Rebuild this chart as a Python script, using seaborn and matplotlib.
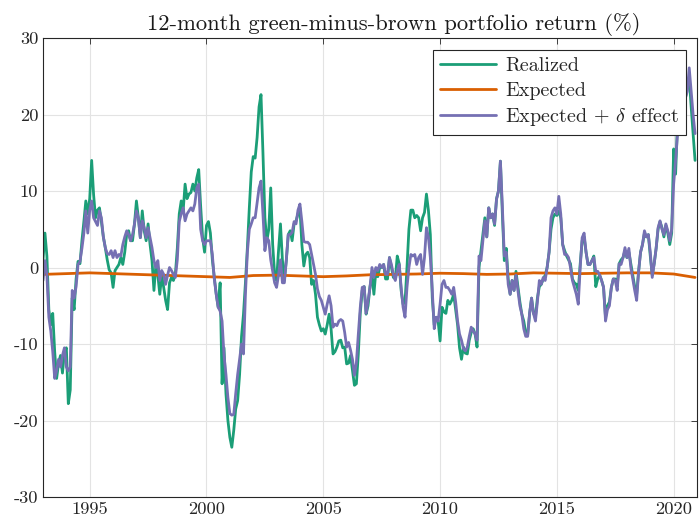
import numpy as np
import pandas as pd
import matplotlib
matplotlib.use("Agg")
import matplotlib.pyplot as plt
import seaborn as sns

# ---------------- data (monthly, Jan 1993 - Dec 2020) ----------------
start_year = 1993
realized = [
    1.0, 4.5, 1.5, -5.5, -7.5, -6.0, -11.0, -14.5, -12.5, -11.5, -13.8, -11.0,      # 1993
    -10.5, -17.8, -16.0, -4.0, -5.5, -1.5, 0.8, 0.5, 3.5, 6.0, 8.7, 7.0,            # 1994
    9.0, 14.0, 9.5, 6.5, 7.5, 7.8, 6.0, 4.0, 2.6, 1.0, -0.3, -0.7,                  # 1995
    -2.6, -0.4, 0.0, 0.4, 1.3, 0.4, 2.0, 4.3, 4.8, 3.5, 3.5, 5.7,                   # 1996
    8.7, 6.5, 3.9, 7.4, 4.8, 3.5, 5.7, 3.0, 0.9, -3.0, 0.4, -1.0,                   # 1997
    -3.5, -1.0, -2.6, -4.3, -5.5, -2.0, -1.3, -1.7, -0.9, 2.5, 7.0, 8.7,            # 1998
    7.4, 10.9, 9.0, 9.6, 9.8, 10.9, 10.0, 11.7, 12.8, 8.0, 3.9, 2.0,                # 1999
    5.5, 6.0, 4.5, 1.0, -1.3, -3.5, -5.2, -2.0, -15.2, -10.5, -16.5, -20.0,         # 2000
    -22.2, -23.5, -21.3, -18.5, -17.4, -14.0, -9.0, -6.1, -2.0, 2.6, 7.8, 12.5,     # 2001
    14.5, 14.3, 17.0, 21.0, 22.6, 15.0, 6.5, 3.5, 5.0, 10.4, 3.0, -0.9,             # 2002
    -1.7, 2.2, 5.7, 1.0, -1.7, 0.9, 4.3, 4.8, 3.5, 5.7, 6.1, 7.0,                   # 2003
    7.8, 3.0, 0.2, 1.7, 2.0, 1.3, -2.2, -1.7, -3.5, -6.5, -7.5, -8.3,               # 2004
    -8.0, -8.7, -7.5, -6.1, -8.0, -11.3, -11.0, -10.4, -9.6, -9.5, -10.5, -10.4,    # 2005
    -12.6, -12.5, -11.5, -13.5, -15.4, -15.2, -11.3, -6.0, -3.0, -2.5, -6.1, -5.0,  # 2006
    -2.5, -1.0, -3.5, -0.5, -1.2, 0.0, 0.0, 0.4, -1.5, -1.5, 1.3, 0.0,              # 2007
    -1.3, -1.5, 1.5, 0.5, -3.0, -4.8, -4.5, 0.0, 5.0, 7.5, 7.5, 6.5,                # 2008
    6.8, 6.5, 4.8, 6.5, 7.2, 9.6, 7.5, 4.3, -4.0, -7.5, -6.5, -7.0,                 # 2009
    -9.6, -5.2, -5.8, -6.0, -4.3, -4.8, -4.3, -3.5, -5.5, -7.5, -10.5, -12.0,       # 2010
    -10.4, -11.2, -11.3, -9.5, -8.5, -8.0, -8.7, -10.4, 0.0, 2.2, 4.5, 6.5,         # 2011
    4.0, 7.8, 6.5, 7.0, 5.5, 9.0, 10.0, 13.9, 7.0, 0.9, 2.5, -1.5,                  # 2012
    -3.5, -1.7, -3.0, -0.5, -2.5, -4.5, -6.1, -7.0, -8.5, -8.8, -6.0, -4.0,         # 2013
    -6.0, -6.5, -4.0, -2.5, -2.2, -1.5, -1.0, 0.0, 2.0, 5.0, 6.5, 7.0,              # 2014
    6.8, 7.4, 6.5, 3.0, 2.2, 1.5, 1.0, 0.5, -1.5, -2.0, -2.2, -3.0,                 # 2015
    0.5, 3.5, 4.0, 2.0, 0.4, 0.4, 0.9, 1.5, -2.5, -1.5, -1.0, -1.7,                 # 2016
    -2.6, -6.5, -5.0, -4.5, -2.6, -1.5, -1.5, -2.5, 0.5, 1.0, 1.3, 2.2,             # 2017
    1.3, 2.0, 0.5, -1.0, -2.5, -3.5, -0.5, 2.0, 3.0, 4.5, 4.0, 4.3,                 # 2018
    1.5, -1.0, 0.5, 2.5, 5.0, 6.0, 5.2, 4.0, 5.5, 4.5, 3.0, 4.5,                    # 2019
    15.5, 12.2, 19.0, 20.5, 21.0, 21.5, 22.0, 23.5, 24.8, 21.0, 17.5, 14.0,         # 2020
]
expected_delta = [
    -1.7, 0.9, -1.0, -6.5, -8.3, -11.0, -14.5, -13.5, -12.0, -13.0, -11.5, -10.5,   # 1993
    -13.0, -13.5, -13.0, -3.0, -4.0, -2.5, 0.4, 0.8, 2.5, 4.5, 7.4, 4.5,            # 1994
    7.5, 8.7, 6.5, 6.0, 5.5, 7.4, 6.5, 4.0, 2.6, 1.8, 1.7, 2.2,                     # 1995
    1.3, 2.2, 1.3, 1.7, 1.5, 3.0, 4.0, 4.8, 4.3, 3.5, 4.3, 5.7,                     # 1996
    7.4, 6.5, 3.9, 6.1, 5.2, 3.9, 5.2, 3.9, 2.6, 0.9, 0.0, 0.9,                     # 1997
    -1.7, -0.4, -0.9, -2.2, -1.0, 0.0, -0.4, -0.9, -1.3, 1.0, 6.0, 7.0,             # 1998
    7.8, 6.1, 7.0, 7.4, 7.8, 7.4, 8.3, 10.4, 10.9, 5.0, 3.5, 3.0,                   # 1999
    3.5, 3.5, 3.5, 1.7, -1.5, -3.5, -5.2, -5.7, -7.0, -11.5, -14.0, -17.0,          # 2000
    -19.1, -19.3, -19.2, -16.5, -14.0, -12.0, -10.0, -11.3, -3.5, 2.0, 5.0, 5.7,    # 2001
    6.5, 6.5, 8.5, 10.4, 11.3, 7.0, 2.2, 3.9, 3.5, 1.0, -0.5, -2.0,                 # 2002
    -2.6, -1.0, 1.0, -2.0, -2.0, 1.0, 4.3, 4.3, 4.6, 6.0, 5.7, 7.5,                 # 2003
    8.3, 6.0, 3.4, 3.3, 3.3, 3.0, 1.7, 0.4, -0.9, -2.8, -3.8, -4.3,                 # 2004
    -5.2, -6.1, -4.8, -3.7, -5.0, -7.8, -7.4, -7.6, -7.0, -6.8, -7.0, -8.5,         # 2005
    -10.4, -9.8, -10.8, -12.0, -14.1, -12.5, -8.7, -5.2, -2.6, -2.5, -6.0, -4.3,    # 2006
    -2.6, 0.0, -1.3, 0.0, -0.4, 0.4, 0.0, 0.4, -0.9, -0.9, 1.3, 0.4,                # 2007
    -0.9, -1.7, -0.4, 0.4, -2.6, -5.2, -6.5, -2.6, 0.0, 1.7, 1.5, 1.7,              # 2008
    0.4, 1.3, 1.7, -0.9, 1.3, 5.2, 4.0, 1.3, -3.0, -8.0, -6.5, -7.0,                # 2009
    -4.8, -2.2, -1.7, -2.6, -2.6, -3.0, -3.5, -2.6, -4.5, -7.0, -8.7, -9.5,         # 2010
    -10.6, -10.9, -10.4, -9.0, -7.8, -8.3, -8.7, -9.5, 1.5, 0.9, 3.5, 6.1,          # 2011
    4.0, 7.8, 6.5, 7.0, 5.7, 8.9, 10.0, 13.9, 8.0, 1.5, 2.0, -2.2,                  # 2012
    -3.5, -1.7, -3.0, -1.0, -3.0, -5.0, -6.1, -8.0, -9.0, -9.0, -6.0, -4.0,         # 2013
    -6.0, -7.0, -4.5, -1.7, -2.2, -1.3, -1.7, 0.0, 2.0, 6.5, 7.4, 7.8,              # 2014
    7.0, 9.3, 7.0, 3.0, 1.7, 1.7, 1.3, 0.0, -1.7, -2.6, -3.5, -4.8,                 # 2015
    0.0, 3.9, 4.5, 2.0, 0.4, 0.4, 0.9, 1.3, -0.5, -0.5, -1.0, -1.7,                 # 2016
    -2.6, -7.0, -5.5, -5.0, -2.6, -1.5, -1.7, -3.0, 0.5, 0.4, 1.3, 2.6,             # 2017
    1.3, 2.5, 0.0, -1.5, -3.0, -4.3, -0.5, 2.0, 3.0, 4.8, 4.0, 4.3,                 # 2018
    2.0, -1.3, 0.5, 2.5, 5.2, 6.1, 5.0, 4.3, 5.7, 4.8, 3.5, 5.0,                    # 2019
    10.9, 14.0, 17.5, 19.1, 20.4, 21.3, 22.2, 23.0, 26.1, 23.0, 20.0, 17.5,         # 2020
]
expected_years = [1993.0, 1994.0, 1995.0, 1996.0, 1997.0, 1998.0, 1999.0, 2000.0,
                  2001.0, 2002.0, 2003.0, 2004.0, 2005.0, 2006.0, 2007.0, 2008.0,
                  2009.0, 2010.0, 2011.0, 2012.0, 2013.0, 2014.0, 2015.0, 2016.0,
                  2017.0, 2018.0, 2019.0, 2020.0, 2020.917]
expected = [-0.9, -0.8, -0.7, -0.8, -0.9, -1.0, -1.1, -1.2,
            -1.3, -1.05, -1.0, -1.1, -1.2, -1.1, -0.95, -0.9,
            -0.85, -0.75, -0.8, -0.9, -0.85, -0.7, -0.75, -0.8,
            -0.75, -0.7, -0.7, -0.85, -1.3]

title = "12-month green-minus-brown portfolio return (%)"
labels = ["Realized", "Expected", r"Expected + $\delta$ effect"]
xticks = [1995, 2000, 2005, 2010, 2015, 2020]
yticks = [-30, -20, -10, 0, 10, 20, 30]

# ---------------- styling ----------------
sns.set_style("white")
plt.rcParams["font.family"] = ["serif"]
plt.rcParams["font.serif"] = ["cmr10"]
plt.rcParams["mathtext.fontset"] = "cm"
plt.rcParams["axes.unicode_minus"] = False
plt.rcParams["axes.formatter.use_mathtext"] = False

colors = sns.color_palette("Dark2", 3)  # green, orange, purple

months = np.arange(len(realized))
t = start_year + months / 12.0
df_r = pd.DataFrame({"t": t, "v": realized})
df_d = pd.DataFrame({"t": t, "v": expected_delta})
df_e = pd.DataFrame({"t": expected_years, "v": expected})

fig = plt.figure(figsize=(7.0, 5.28), dpi=100)
ax = fig.add_axes([43 / 700, 1 - 497 / 528, (697 - 43) / 700, (497 - 38) / 528])

lw = 2.0
sns.lineplot(data=df_r, x="t", y="v", ax=ax, color=colors[0], lw=lw, label=labels[0])
sns.lineplot(data=df_e, x="t", y="v", ax=ax, color=colors[1], lw=lw, label=labels[1])
sns.lineplot(data=df_d, x="t", y="v", ax=ax, color=colors[2], lw=lw, label=labels[2])

ax.set_xlim(1993, 2021)
ax.set_ylim(-30, 30)
ax.set_xticks(xticks)
ax.set_yticks(yticks)
ax.set_xticklabels([str(v) for v in xticks])
ax.set_yticklabels([str(v) for v in yticks])
ax.set_xlabel("")
ax.set_ylabel("")
ax.grid(True, color="#e3e3e3", lw=0.8)
ax.set_axisbelow(True)
for s in ax.spines.values():
    s.set_color("#262626")
    s.set_linewidth(0.8)
ax.tick_params(direction="in", length=4, width=0.6, colors="#262626",
               labelsize=13.3, top=True, right=True, labelcolor="#262626")
ax.set_title(title, fontsize=16.3, color="#1a1a1a", pad=6, x=0.537)

leg = ax.legend(loc="upper right", bbox_to_anchor=(0.983, 0.974), fontsize=14.5,
                frameon=True, fancybox=False, edgecolor="#262626", framealpha=1,
                handlelength=2.8, borderaxespad=0.0, borderpad=0.35,
                labelspacing=0.32, handletextpad=0.45)
leg.get_frame().set_linewidth(0.8)

fig.savefig("out.png", dpi=100)
